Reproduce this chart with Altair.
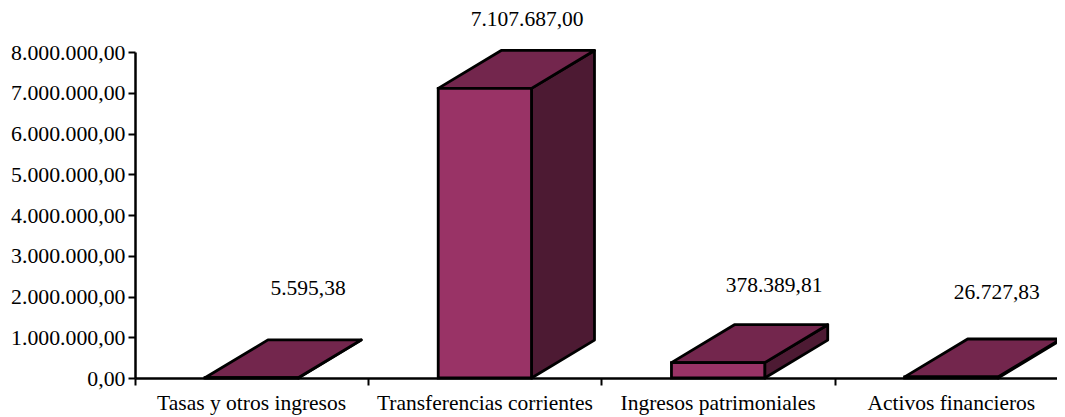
import altair as alt
import pandas as pd

categories = ["Tasas y otros ingresos", "Transferencias corrientes", "Ingresos patrimoniales", "Activos financieros"]
values = [5595.38, 7107687.00, 378389.81, 26727.83]
value_labels = ["5.595,38", "7.107.687,00", "378.389,81", "26.727,83"]
label_x = [0.742, 1.681, 2.74, 3.695]
label_y = [2190000, 8785000, 2260000, 2090000]
y_ticks = [0, 1000000, 2000000, 3000000, 4000000, 5000000, 6000000, 7000000, 8000000]
x_ticks = [0, 1, 2, 3]

HALF = 0.2
DX = 0.27
DY = 930000
FONT = "Liberation Serif"
FS = 21.5

front, top, side = [], [], []
for i, v in enumerate(values):
    a, b = i + 0.5 - HALF, i + 0.5 + HALF
    front.append({"a": a, "b": b, "v": v})
    top += [{"g": i, "x": a, "x2": b, "y": v},
            {"g": i, "x": a + DX, "x2": b + DX, "y": v + DY}]
    side += [{"g": i, "x": b, "y": 0, "y2": v},
             {"g": i, "x": b + DX, "y": DY, "y2": v + DY}]

xs = alt.Scale(domain=[0, 3.953], nice=False, zero=False)
ys = alt.Scale(domain=[0, 8000000], nice=False)
x_axis = alt.Axis(values=x_ticks, labels=False, title=None, grid=False, domainColor="black", domainWidth=2.5,
                  tickColor="black", tickWidth=2, tickSize=7, zindex=1)
y_axis = alt.Axis(values=y_ticks, title=None, grid=False, domainColor="black", domainWidth=2.5,
                  tickColor="black", tickWidth=2, tickSize=7, labelFont=FONT, labelFontSize=21.8,
                  labelColor="black", labelPadding=3,
                  labelExpr="replace(replace(format(datum.value, ',.2f'), /,/g, '.'), /\\.(\\d\\d)$/, ',$1')",
                  zindex=1)
X = alt.X("x:Q", scale=xs, axis=x_axis)
Y = alt.Y("y:Q", scale=ys, axis=y_axis)

front_layer = alt.Chart(pd.DataFrame(front)).mark_rect(
    fill="#993366", stroke="black", strokeWidth=2.8
).encode(
    x=alt.X("a:Q", scale=xs, axis=x_axis), x2="b:Q",
    y=alt.Y("v:Q", scale=ys, axis=y_axis), y2=alt.Y2(datum=0),
)
top_layer = alt.Chart(pd.DataFrame(top)).mark_area(
    orient="horizontal", fill="#73264D", stroke="black", strokeWidth=2.8, opacity=1, strokeJoin="round"
).encode(x=X, x2="x2:Q", y=Y, detail="g:N")
side_layer = alt.Chart(pd.DataFrame(side)).mark_area(
    orient="vertical", fill="#4D1A33", stroke="black", strokeWidth=2.8, opacity=1, strokeJoin="round"
).encode(x=X, y=Y, y2="y2:Q", detail="g:N")
value_text = alt.Chart(pd.DataFrame({"x": label_x, "y": label_y, "t": value_labels})).mark_text(
    font=FONT, fontSize=FS, color="black", align="center", baseline="middle"
).encode(x=X, y=Y, text="t:N")
cat_text = alt.Chart(pd.DataFrame({"x": [i + 0.5 for i in range(4)], "y": [0, 0, 0, 0], "c": categories})).mark_text(
    font=FONT, fontSize=FS, color="black", align="center", baseline="middle", dy=26
).encode(x=X, y=Y, text="c:N")

chart = alt.layer(side_layer, top_layer, front_layer, value_text, cat_text).properties(
    width=922, height=326,
    padding={"left": 127, "top": 44, "right": 0, "bottom": 37},
    autosize=alt.AutoSizeParams(type="none"),
).configure_view(stroke=None)

chart.save("out.html", embed_options={"renderer": "svg", "actions": False})
